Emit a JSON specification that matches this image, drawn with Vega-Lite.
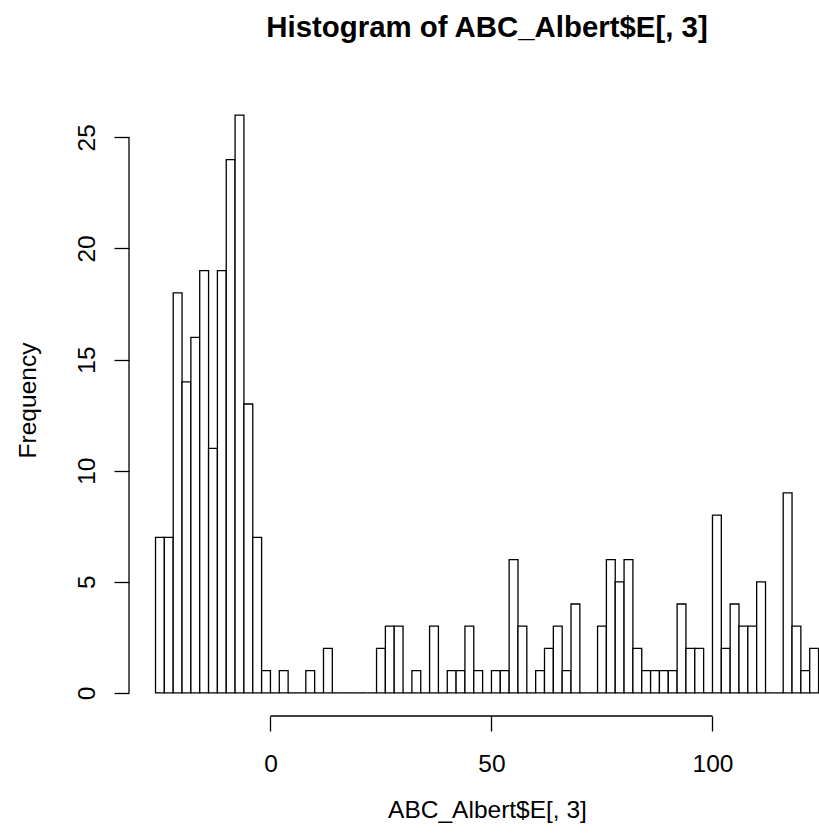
{
  "$schema": "https://vega.github.io/schema/vega-lite/v6.json",
  "width": 690,
  "height": 624,
  "autosize": {"type": "none"},
  "padding": {"left": 129, "top": 92, "right": 0, "bottom": 122},
  "background": "white",
  "config": {
    "view": {"stroke": null},
    "axis": {
      "domain": false,
      "grid": false,
      "tickSize": 15,
      "tickWidth": 1.3,
      "tickColor": "black",
      "labelFont": "Liberation Sans",
      "labelFontSize": 24.5,
      "labelColor": "black",
      "labelFlush": false,
      "labelOverlap": false,
      "titleFont": "Liberation Sans",
      "titleFontSize": 24.5,
      "titleFontWeight": "normal",
      "titleColor": "black"
    }
  },
  "title": {
    "text": "Histogram of ABC_Albert$E[, 3]",
    "font": "Liberation Sans",
    "fontSize": 29.4,
    "fontWeight": "bold",
    "color": "black",
    "anchor": "middle",
    "frame": "group",
    "dx": 13,
    "baseline": "alphabetic",
    "offset": 26
  },
  "data": {
    "values": [
      {"start": -26, "end": -24, "count": 7},
      {"start": -24, "end": -22, "count": 7},
      {"start": -22, "end": -20, "count": 18},
      {"start": -20, "end": -18, "count": 14},
      {"start": -18, "end": -16, "count": 16},
      {"start": -16, "end": -14, "count": 19},
      {"start": -14, "end": -12, "count": 11},
      {"start": -12, "end": -10, "count": 19},
      {"start": -10, "end": -8, "count": 24},
      {"start": -8, "end": -6, "count": 26},
      {"start": -6, "end": -4, "count": 13},
      {"start": -4, "end": -2, "count": 7},
      {"start": -2, "end": 0, "count": 1},
      {"start": 0, "end": 2, "count": 0},
      {"start": 2, "end": 4, "count": 1},
      {"start": 4, "end": 6, "count": 0},
      {"start": 6, "end": 8, "count": 0},
      {"start": 8, "end": 10, "count": 1},
      {"start": 10, "end": 12, "count": 0},
      {"start": 12, "end": 14, "count": 2},
      {"start": 14, "end": 16, "count": 0},
      {"start": 16, "end": 18, "count": 0},
      {"start": 18, "end": 20, "count": 0},
      {"start": 20, "end": 22, "count": 0},
      {"start": 22, "end": 24, "count": 0},
      {"start": 24, "end": 26, "count": 2},
      {"start": 26, "end": 28, "count": 3},
      {"start": 28, "end": 30, "count": 3},
      {"start": 30, "end": 32, "count": 0},
      {"start": 32, "end": 34, "count": 1},
      {"start": 34, "end": 36, "count": 0},
      {"start": 36, "end": 38, "count": 3},
      {"start": 38, "end": 40, "count": 0},
      {"start": 40, "end": 42, "count": 1},
      {"start": 42, "end": 44, "count": 1},
      {"start": 44, "end": 46, "count": 3},
      {"start": 46, "end": 48, "count": 1},
      {"start": 48, "end": 50, "count": 0},
      {"start": 50, "end": 52, "count": 1},
      {"start": 52, "end": 54, "count": 1},
      {"start": 54, "end": 56, "count": 6},
      {"start": 56, "end": 58, "count": 3},
      {"start": 58, "end": 60, "count": 0},
      {"start": 60, "end": 62, "count": 1},
      {"start": 62, "end": 64, "count": 2},
      {"start": 64, "end": 66, "count": 3},
      {"start": 66, "end": 68, "count": 1},
      {"start": 68, "end": 70, "count": 4},
      {"start": 70, "end": 72, "count": 0},
      {"start": 72, "end": 74, "count": 0},
      {"start": 74, "end": 76, "count": 3},
      {"start": 76, "end": 78, "count": 6},
      {"start": 78, "end": 80, "count": 5},
      {"start": 80, "end": 82, "count": 6},
      {"start": 82, "end": 84, "count": 2},
      {"start": 84, "end": 86, "count": 1},
      {"start": 86, "end": 88, "count": 1},
      {"start": 88, "end": 90, "count": 1},
      {"start": 90, "end": 92, "count": 1},
      {"start": 92, "end": 94, "count": 4},
      {"start": 94, "end": 96, "count": 2},
      {"start": 96, "end": 98, "count": 2},
      {"start": 98, "end": 100, "count": 0},
      {"start": 100, "end": 102, "count": 8},
      {"start": 102, "end": 104, "count": 2},
      {"start": 104, "end": 106, "count": 4},
      {"start": 106, "end": 108, "count": 3},
      {"start": 108, "end": 110, "count": 3},
      {"start": 110, "end": 112, "count": 5},
      {"start": 112, "end": 114, "count": 0},
      {"start": 114, "end": 116, "count": 0},
      {"start": 116, "end": 118, "count": 9},
      {"start": 118, "end": 120, "count": 3},
      {"start": 120, "end": 122, "count": 1},
      {"start": 122, "end": 124, "count": 2}
    ]
  },
  "encoding": {
    "x": {
      "field": "start",
      "type": "quantitative",
      "scale": {"domain": [-32, 124.1], "nice": false, "zero": false},
      "axis": {
        "values": [0, 50, 100],
        "labelBaseline": "alphabetic",
        "labelPadding": 40.7,
        "title": "ABC_Albert$E[, 3]",
        "titleX": 358,
        "titleY": 101,
        "titleAlign": "center",
        "titleBaseline": "alphabetic",
        "titleAngle": 0
      }
    },
    "x2": {"field": "end"},
    "y": {
      "field": "count",
      "type": "quantitative",
      "scale": {"domain": [-1.04, 27.04], "nice": false, "zero": false},
      "axis": {
        "values": [0, 5, 10, 15, 20, 25],
        "labelAngle": -90,
        "labelAlign": "center",
        "labelBaseline": "alphabetic",
        "labelPadding": 20,
        "title": "Frequency",
        "titleX": -93.5,
        "titleY": 308,
        "titleAngle": -90,
        "titleAlign": "center",
        "titleBaseline": "alphabetic"
      }
    }
  },
  "layer": [
    {
      "transform": [{"filter": "datum.count > 0"}],
      "mark": {"type": "rect", "fill": "white", "stroke": "black", "strokeWidth": 1.3},
      "encoding": {
        "y2": {"datum": 0}
      }
    },
    {
      "transform": [{"filter": "datum.count == 0"}],
      "mark": {"type": "rule", "stroke": "black", "strokeWidth": 1.3},
      "encoding": {}
    },
    {
      "transform": [{"filter": "datum.start == -26"}],
      "mark": {"type": "rule", "stroke": "black", "strokeWidth": 1.3},
      "encoding": {
        "x": {"datum": 0, "type": "quantitative"},
        "x2": {"datum": 100},
        "y": {"datum": -1.04, "type": "quantitative"}
      }
    },
    {
      "transform": [{"filter": "datum.start == -26"}],
      "mark": {"type": "rule", "stroke": "black", "strokeWidth": 1.3},
      "encoding": {
        "x": {"datum": -32, "type": "quantitative"},
        "x2": null,
        "y": {"datum": 0, "type": "quantitative"},
        "y2": {"datum": 25}
      }
    }
  ]
}
